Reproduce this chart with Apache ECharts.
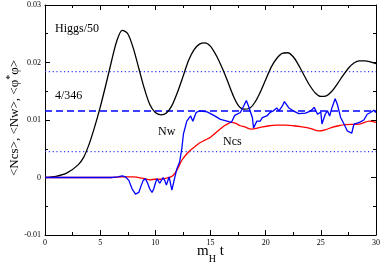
<!DOCTYPE html>
<html><head><meta charset="utf-8">
<script src="https://cdn.jsdelivr.net/npm/echarts@6/dist/echarts.min.js"></script>
<style>html,body{margin:0;padding:0;background:#fff}#c{width:382px;height:265px}</style>
</head><body><div id="c"></div>
<script>
const xTicks = [0, 5, 10, 15, 20, 25, 30];
const yTicks = [-0.01, 0, 0.01, 0.02, 0.03];
const higgs = [[0,0],[1,0.0002],[2,0.0008],[3,0.0022],[3.5,0.0035],[4,0.0058],[4.5,0.0088],[5,0.0122],[5.5,0.0160],[6,0.0200],[6.5,0.0237],[7,0.0256],[7.5,0.0250],[8,0.0225],[8.5,0.0190],[9,0.0155],[9.5,0.0127],[10,0.0113],[10.5,0.0109],[11,0.0112],[11.5,0.0125],[12,0.0148],[12.5,0.0175],[13,0.0203],[13.5,0.0222],[14,0.0232],[14.5,0.0234],[15,0.0228],[15.5,0.0213],[16,0.0193],[16.5,0.0170],[17,0.0145],[17.5,0.0126],[18,0.0119],[18.5,0.0120],[19,0.0130],[19.5,0.0148],[20,0.0170],[20.5,0.0192],[21,0.0207],[21.5,0.0216],[22,0.0217],[22.5,0.0210],[23,0.0195],[23.5,0.0177],[24,0.0160],[24.5,0.0147],[25,0.0141],[25.5,0.0142],[26,0.0150],[26.5,0.0163],[27,0.0177],[27.5,0.0190],[28,0.0199],[28.5,0.0203],[29,0.0203],[29.5,0.0201],[30,0.0198]];
const nw = [[0,0],[1,0],[2,0],[3,0],[4,0],[5,0],[6,0],[6.6,0.0001],[7.0,0.0003],[7.3,0.0001],[7.6,-0.0005],[7.9,-0.0020],[8.2,-0.0029],[8.5,-0.0026],[8.7,-0.0015],[8.9,-0.0005],[9.1,-0.0002],[9.3,-0.0010],[9.5,-0.0020],[9.7,-0.0026],[9.85,-0.0020],[10.0,-0.0010],[10.15,-0.0002],[10.4,-0.0010],[10.7,0.0000],[10.85,-0.0005],[11.0,-0.0013],[11.25,0.0001],[11.5,-0.0022],[11.7,-0.0005],[11.95,0.0015],[12.2,0.0027],[12.4,0.0050],[12.55,0.0076],[12.85,0.0098],[13.2,0.0107],[13.4,0.0098],[13.7,0.0113],[14.0,0.0116],[14.7,0.0114],[15.3,0.0108],[15.9,0.0101],[16.5,0.0098],[16.9,0.0096],[17.2,0.0108],[17.7,0.0113],[18.0,0.0124],[18.25,0.0134],[18.45,0.0124],[18.8,0.0104],[18.9,0.0086],[19.2,0.0098],[19.5,0.0098],[19.7,0.0104],[20.1,0.0107],[20.4,0.0113],[20.7,0.0116],[21.0,0.0121],[21.2,0.0116],[21.5,0.0124],[21.7,0.0132],[22.1,0.0121],[22.5,0.0116],[23.0,0.0111],[23.6,0.0112],[24.1,0.0116],[24.4,0.0122],[24.7,0.0110],[25.0,0.0114],[25.1,0.0093],[25.4,0.0110],[25.6,0.0116],[25.8,0.0107],[26.0,0.0121],[26.3,0.0137],[26.5,0.0127],[26.8,0.0104],[27.1,0.0093],[27.4,0.0081],[27.8,0.0077],[28.0,0.0093],[28.5,0.0096],[28.9,0.0100],[29.2,0.0110],[29.5,0.0113],[29.8,0.0117],[30,0.0113]];
const ncs = [[0,0],[2,0],[4,0],[6,0],[7,0.0001],[8,0.0001],[9,-0.0002],[9.5,-0.0004],[10,-0.0003],[10.5,-0.0003],[11,-0.0001],[11.5,0.0002],[11.8,0.0008],[12.1,0.0018],[12.4,0.0030],[12.8,0.0040],[13.15,0.0047],[13.6,0.0054],[14.0,0.0060],[14.5,0.0065],[15.0,0.0070],[15.6,0.0080],[16.2,0.0089],[16.9,0.0096],[17.3,0.0094],[17.7,0.0090],[18.1,0.0088],[18.7,0.0084],[19.5,0.0087],[20.3,0.0090],[21.0,0.0091],[21.8,0.0091],[22.5,0.0090],[23.3,0.0088],[24.1,0.0085],[24.8,0.0081],[25.4,0.0083],[26.0,0.0087],[26.6,0.0090],[27.2,0.0092],[28.5,0.0093],[29.4,0.0098],[30,0.0096]];
const refDashed = [[0,4/346],[30,4/346]];
const refDotUpper = [[0,0.0184],[30,0.0184]];
const refDotLower = [[0,0.0045],[30,0.0045]];
const xTitle = ['m', 'H', ' t'];
const yTitle = ['<Ncs>, <Nw>, <φ', '*', 'φ>'];

const FONT = 'Liberation Serif';
const ctx = document.createElement('canvas').getContext('2d');
function tw(text, font){ ctx.font = font; return ctx.measureText(text).width; }

const fBig = '15px "Liberation Serif"', fSub = '10px "Liberation Serif"';
const wx = [tw(xTitle[0],fBig), tw(xTitle[1],fSub), tw(xTitle[2],fBig)];
const xStart = 210.5 - (wx[0]+wx[1]+wx[2])/2;
const xBase = 259;

const fY = '13px "Liberation Serif"', fYs = '10px "Liberation Serif"';
const wy = [tw(yTitle[0],fY), tw(yTitle[1],fYs), tw(yTitle[2],fY)];
const yStart = 118 + (wy[0]+wy[1]+wy[2])/2;

const axisCommon = {
  axisLine:{show:true,onZero:false,lineStyle:{color:'#000',width:1}},
  axisTick:{show:true,inside:true,length:5,lineStyle:{color:'#000'}},
  minorTick:{show:true,splitNumber:2,length:3,lineStyle:{color:'#000'}},
  splitLine:{show:false}
};
const chart = echarts.init(document.getElementById('c'));
chart.setOption({
  animation:false,
  backgroundColor:'#fff',
  grid:{left:45,right:6,top:5,bottom:30,containLabel:false,outerBoundsMode:'none'},
  xAxis:[
    Object.assign({type:'value',min:0,max:30,interval:5,position:'bottom',
      axisLabel:{fontFamily:FONT,fontSize:8,color:'#000',margin:4,formatter:v=>String(v)}},axisCommon),
    Object.assign({type:'value',min:0,max:30,interval:5,position:'top',axisLabel:{show:false}},axisCommon)
  ],
  yAxis:[
    Object.assign({type:'value',min:-0.01,max:0.03,interval:0.01,position:'left',
      axisLabel:{fontFamily:FONT,fontSize:8,color:'#000',margin:4,formatter:v=>{const r=Math.round(v*100)/100;return r===0?'0':String(r);}}},axisCommon),
    Object.assign({type:'value',min:-0.01,max:0.03,interval:0.01,position:'right',axisLabel:{show:false}},axisCommon)
  ],
  series:[
    {type:'line',data:refDotUpper,showSymbol:false,lineStyle:{color:'#2a3cff',width:1.2,type:[1.2,2.6]},silent:true},
    {type:'line',data:refDotLower,showSymbol:false,lineStyle:{color:'#2a3cff',width:1.2,type:[1.2,2.6]},silent:true},
    {type:'line',data:refDashed,showSymbol:false,lineStyle:{color:'#0000ff',width:1.5,type:[7,4]},silent:true},
    {type:'line',data:higgs,showSymbol:false,smooth:0.3,lineStyle:{color:'#000',width:1.3}},
    {type:'line',data:ncs,showSymbol:false,smooth:0.3,lineStyle:{color:'#ff0000',width:1.3}},
    {type:'line',data:nw,showSymbol:false,lineStyle:{color:'#0000ff',width:1.3}}
  ],
  graphic:[
    {type:'text',left:55,top:23,style:{text:'Higgs/50',font:'12px "Liberation Serif"',fill:'#000'}},
    {type:'text',left:55,top:90,style:{text:'4/346',font:'12px "Liberation Serif"',fill:'#000'}},
    {type:'text',left:158,top:126,style:{text:'Nw',font:'12px "Liberation Serif"',fill:'#000'}},
    {type:'text',left:223,top:136,style:{text:'Ncs',font:'12px "Liberation Serif"',fill:'#000'}},
    {type:'text',x:xStart,y:xBase,style:{text:xTitle[0],font:fBig,fill:'#000',verticalAlign:'bottom'}},
    {type:'text',x:xStart+wx[0],y:xBase+5,style:{text:xTitle[1],font:fSub,fill:'#000',verticalAlign:'bottom'}},
    {type:'text',x:xStart+wx[0]+wx[1],y:xBase,style:{text:xTitle[2],font:fBig,fill:'#000',verticalAlign:'bottom'}},
    {type:'group',x:21,y:yStart,rotation:Math.PI/2,children:[
      {type:'text',x:0,y:0,style:{text:yTitle[0],font:fY,fill:'#000',verticalAlign:'bottom'}},
      {type:'text',x:wy[0],y:-6,style:{text:yTitle[1],font:fYs,fill:'#000',verticalAlign:'bottom'}},
      {type:'text',x:wy[0]+wy[1],y:0,style:{text:yTitle[2],font:fY,fill:'#000',verticalAlign:'bottom'}}
    ]}
  ]
});
</script></body></html>
